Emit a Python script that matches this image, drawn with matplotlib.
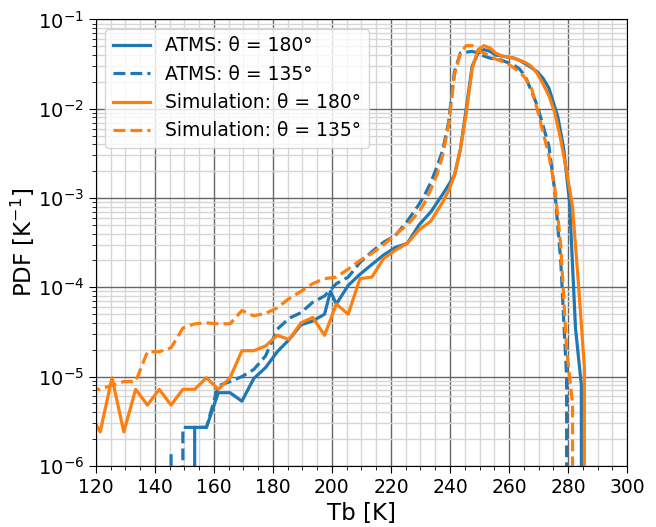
import matplotlib

matplotlib.use("Agg")
import matplotlib.pyplot as plt
from matplotlib.ticker import MultipleLocator, LogLocator

# ── ATMS, θ = 180° ──
atms180_tb = [149.5, 153.5, 157.5, 161.5, 165.5, 169.5, 173.5, 177.5, 181.5,
              185.5, 189.5, 193.5, 197.5, 199.5, 201.5, 205.5, 209.5, 213.5,
              217.5, 221.5, 225.5, 229.5, 233.5, 237.5, 239.5, 241.5, 243.5,
              245.5, 247.5, 249.5, 251.5, 253.5, 255.5, 257.5, 259.5, 261.5,
              263.5, 265.5, 267.5, 269.5, 271.5, 273.5, 276.5, 278.5, 280.5,
              282.5, 284.5, 286.5]
atms180_pdf = [0, 2.7e-6, 2.7e-6, 6.6e-6, 6.6e-6, 5.3e-6, 9.5e-6, 1.26e-5, 1.9e-5,
               2.6e-5, 3.8e-5, 4.2e-5, 5.0e-5, 9.0e-5, 6.5e-5, 1.05e-4, 1.4e-4, 1.8e-4,
               2.3e-4, 2.8e-4, 3.1e-4, 5.0e-4, 7.0e-4, 1.1e-3, 1.4e-3, 1.8e-3, 3.5e-3,
               1.0e-2, 3.0e-2, 4.2e-2, 4.6e-2, 4.4e-2, 4.0e-2, 3.9e-2, 3.8e-2, 3.7e-2,
               3.5e-2, 3.2e-2, 2.9e-2, 2.6e-2, 2.2e-2, 1.7e-2, 8.2e-3, 3.6e-3, 9.0e-4,
               3.5e-5, 8.0e-6, 0]

# ── ATMS, θ = 135° ──
atms135_tb = [145.5, 147.5, 149.5, 153.5, 157.5, 161.5, 165.5, 169.5, 173.5,
              177.5, 181.5, 185.5, 189.5, 193.5, 197.5, 201.5, 205.5, 209.5,
              213.5, 217.5, 221.5, 225.5, 229.5, 231.5, 233.5, 235.5, 237.5,
              239.5, 241.5, 243.5, 245.5, 247.5, 249.5, 251.5, 253.5, 255.5,
              257.5, 259.5, 261.5, 263.5, 265.5, 267.5, 269.5, 271.5, 273.5,
              275.5, 277.5, 279.5, 281.5]
atms135_pdf = [1.35e-6, 0, 2.7e-6, 2.7e-6, 2.7e-6, 7.9e-6, 8.8e-6, 1.0e-5, 1.2e-5,
               1.7e-5, 3.4e-5, 4.5e-5, 5.2e-5, 6.8e-5, 8.0e-5, 1.1e-4, 1.3e-4, 1.9e-4,
               2.5e-4, 3.2e-4, 3.8e-4, 5.5e-4, 8.5e-4, 1.1e-3, 1.5e-3, 2.2e-3, 3.4e-3,
               7.0e-3, 2.6e-2, 4.2e-2, 4.3e-2, 4.4e-2, 4.2e-2, 3.9e-2, 3.7e-2, 3.6e-2,
               3.5e-2, 3.3e-2, 3.1e-2, 2.8e-2, 2.3e-2, 1.6e-2, 1.1e-2, 6.5e-3, 3.8e-3,
               1.2e-3, 2.0e-4, 1.0e-5, 0]

# ── Simulation, θ = 180° ──
sim180_tb = [117.5, 121.5, 125.5, 129.5, 133.5, 137.5, 141.5, 145.5, 149.5,
             153.5, 157.5, 161.5, 165.5, 169.5, 173.5, 177.5, 181.5, 185.5,
             189.5, 193.5, 197.5, 201.5, 205.5, 209.5, 213.5, 217.5, 221.5,
             225.5, 229.5, 233.5, 237.5, 239.5, 241.5, 243.5, 245.5, 247.5,
             249.5, 251.5, 253.5, 255.5, 257.5, 259.5, 261.5, 263.5, 265.5,
             267.5, 269.5, 271.5, 273.5, 275.5, 277.5, 279.5, 281.5, 283.5,
             285.5, 287.5]
sim180_pdf = [4.2e-6, 2.4e-6, 9.7e-6, 2.4e-6, 7.2e-6, 4.8e-6, 7.2e-6, 4.8e-6, 7.2e-6,
              7.2e-6, 9.7e-6, 7.2e-6, 9.7e-6, 1.95e-5, 1.95e-5, 2.2e-5, 2.9e-5, 2.6e-5,
              4.0e-5, 4.6e-5, 2.9e-5, 6.5e-5, 5.0e-5, 1.25e-4, 1.3e-4, 2.1e-4, 2.6e-4,
              3.1e-4, 4.4e-4, 5.5e-4, 9.0e-4, 1.2e-3, 1.8e-3, 3.5e-3, 9.0e-3, 2.8e-2,
              4.6e-2, 5.1e-2, 4.8e-2, 4.2e-2, 3.9e-2, 3.8e-2, 3.7e-2, 3.5e-2, 3.3e-2,
              3.0e-2, 2.5e-2, 1.9e-2, 1.4e-2, 9.0e-3, 4.5e-3, 2.0e-3, 8.0e-4, 1.1e-4,
              1.3e-5, 0]

# ── Simulation, θ = 135° ──
sim135_tb = [117.5, 121.5, 125.5, 129.5, 133.5, 137.5, 141.5, 145.5, 149.5,
             153.5, 157.5, 161.5, 165.5, 169.5, 173.5, 177.5, 181.5, 185.5,
             189.5, 193.5, 197.5, 201.5, 205.5, 209.5, 213.5, 217.5, 221.5,
             225.5, 229.5, 231.5, 233.5, 235.5, 237.5, 239.5, 241.5, 243.5,
             245.5, 247.5, 249.5, 251.5, 253.5, 255.5, 257.5, 259.5, 261.5,
             263.5, 265.5, 267.5, 269.5, 271.5, 273.5, 275.5, 277.5, 279.5,
             281.5, 283.5]
sim135_pdf = [7.2e-6, 7.2e-6, 8.0e-6, 8.8e-6, 8.8e-6, 1.9e-5, 1.9e-5, 2.1e-5, 3.5e-5,
              3.9e-5, 4.0e-5, 3.9e-5, 3.9e-5, 5.5e-5, 4.8e-5, 5.1e-5, 5.9e-5, 7.5e-5,
              9.0e-5, 1.1e-4, 1.25e-4, 1.3e-4, 1.6e-4, 2.0e-4, 2.4e-4, 3.0e-4, 3.9e-4,
              5.0e-4, 7.0e-4, 9.0e-4, 1.25e-3, 1.8e-3, 3.0e-3, 6.5e-3, 2.4e-2, 4.2e-2,
              5.1e-2, 5.1e-2, 4.5e-2, 4.2e-2, 3.9e-2, 3.6e-2, 3.4e-2, 3.2e-2, 2.9e-2,
              2.6e-2, 2.2e-2, 1.75e-2, 1.0e-2, 5.5e-3, 3.0e-3, 1.3e-3, 3.0e-4, 2.0e-5,
              5.0e-6, 0]

BLUE = "#1f77b4"
ORANGE = "#ff7f0e"

fig = plt.figure(figsize=(6.56, 5.27), dpi=100)
ax = fig.add_axes([0.146, 0.116, 0.81, 0.847])

ax.plot(atms180_tb, atms180_pdf, color=BLUE, lw=2.3, label="ATMS: θ = 180°")
ax.plot(atms135_tb, atms135_pdf, color=BLUE, lw=2.3, ls="--", label="ATMS: θ = 135°")
ax.plot(sim180_tb, sim180_pdf, color=ORANGE, lw=2.3, label="Simulation: θ = 180°")
ax.plot(sim135_tb, sim135_pdf, color=ORANGE, lw=2.3, ls="--", label="Simulation: θ = 135°")

ax.set_yscale("log")
ax.set_xlim(120, 300)
ax.set_ylim(1e-6, 1e-1)

ax.xaxis.set_major_locator(MultipleLocator(20))
ax.xaxis.set_minor_locator(MultipleLocator(5))
ax.yaxis.set_major_locator(LogLocator(base=10, numticks=10))
ax.yaxis.set_minor_locator(LogLocator(base=10, subs=range(2, 10), numticks=20))

ax.grid(True, which="major", color="0.4", lw=1.0)
ax.grid(True, which="minor", color="0.84", lw=1.0)
ax.set_axisbelow(True)

ax.tick_params(axis="x", which="major", labelsize=13.5, length=5)
ax.tick_params(axis="y", which="major", labelsize=14, length=5)
ax.tick_params(axis="both", which="minor", length=3)

ax.set_xlabel("Tb [K]", fontsize=16.5)
ax.set_ylabel("PDF [K$^{-1}$]", fontsize=16.5)
ax.yaxis.set_label_coords(-0.11, 0.5)

ax.legend(loc="upper left", fontsize=13.5, framealpha=0.8)

fig.savefig("out.png", dpi=100)
